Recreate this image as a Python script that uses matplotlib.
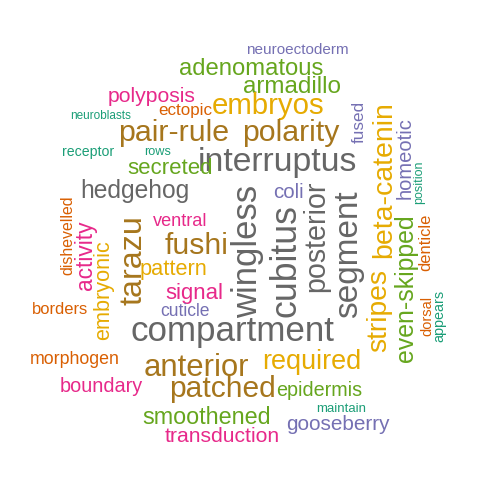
import matplotlib
matplotlib.use('Agg')
import matplotlib.pyplot as plt

words = ['neuroectoderm', 'adenomatous', 'armadillo', 'polyposis', 'embryos', 'ectopic',
         'neuroblasts', 'fused', 'pair-rule', 'polarity', 'receptor', 'rows', 'interruptus',
         'beta-catenin', 'homeotic', 'position', 'secreted', 'hedgehog', 'coli', 'wingless',
         'cubitus', 'posterior', 'segment', 'dishevelled', 'activity', 'embryonic', 'tarazu',
         'ventral', 'fushi', 'stripes', 'even-skipped', 'denticle', 'pattern', 'signal',
         'cuticle', 'borders', 'compartment', 'dorsal', 'appears', 'morphogen', 'anterior',
         'required', 'boundary', 'patched', 'epidermis', 'smoothened', 'maintain',
         'gooseberry', 'transduction']
# word length in the cloud (px), which stands for frequency
lengths = [103, 145, 99, 88, 113, 54, 61, 42, 112, 98, 52, 27, 160, 157, 82, 43, 86, 110, 31,
           133, 113, 112, 128, 80, 70, 100, 90, 55, 64, 83, 148, 57, 68, 58, 50, 56, 205, 40,
           52, 90, 106, 100, 83, 107, 86, 129, 50, 104, 116]
color_idx = [2, 4, 4, 3, 5, 1, 0, 2, 6, 6, 0, 0, 7, 5, 2, 0, 4, 7, 2, 7, 7, 7, 7, 1, 3, 5, 6,
             3, 6, 5, 4, 1, 5, 3, 2, 1, 7, 1, 0, 1, 6, 5, 3, 6, 4, 4, 0, 2, 3]
palette = ['#1B9E77', '#D95F02', '#7570B3', '#E7298A', '#66A61E', '#E6AB02', '#A6761D', '#666666']

# layout of the cloud
xs = [297, 251, 292, 152, 268, 185, 101, 359, 174, 291, 88, 158, 277, 384, 405, 419, 170,
      135, 288, 248, 286, 316, 349, 68, 85, 104, 133, 180, 197, 379, 406, 426, 173, 194,
      185, 60, 232, 427, 439, 75, 196, 312, 101, 222, 319, 207, 341, 338, 222]
ys = [50, 69, 87, 96, 106, 111, 116, 122, 133, 133, 152, 152, 162, 180, 158, 182, 168,
      191, 193, 251, 261, 236, 254, 235, 255, 290, 260, 221, 246, 310, 288, 242, 270, 293,
      311, 309, 331, 316, 316, 360, 368, 362, 387, 389, 390, 417, 409, 425, 437]
vertical = {'fused', 'beta-catenin', 'homeotic', 'position', 'wingless', 'cubitus', 'posterior',
            'segment', 'dishevelled', 'activity', 'embryonic', 'tarazu', 'stripes',
            'even-skipped', 'denticle', 'dorsal', 'appears'}

fig = plt.figure(figsize=(5, 5), dpi=100)
ax = fig.add_axes([0, 0, 1, 1])
ax.set_xlim(0, 500)
ax.set_ylim(500, 0)
ax.axis('off')
renderer = fig.canvas.get_renderer()

for w, L, c, x, y in zip(words, lengths, color_idx, xs, ys):
    t = ax.text(x, y, w, fontsize=10, family='Liberation Sans', color=palette[c],
                ha='center', va='center', rotation=90 if w in vertical else 0)
    bb = t.get_window_extent(renderer)
    cur = bb.height if w in vertical else bb.width
    t.set_fontsize(10 * L / cur)

fig.savefig('out.png', dpi=100)
